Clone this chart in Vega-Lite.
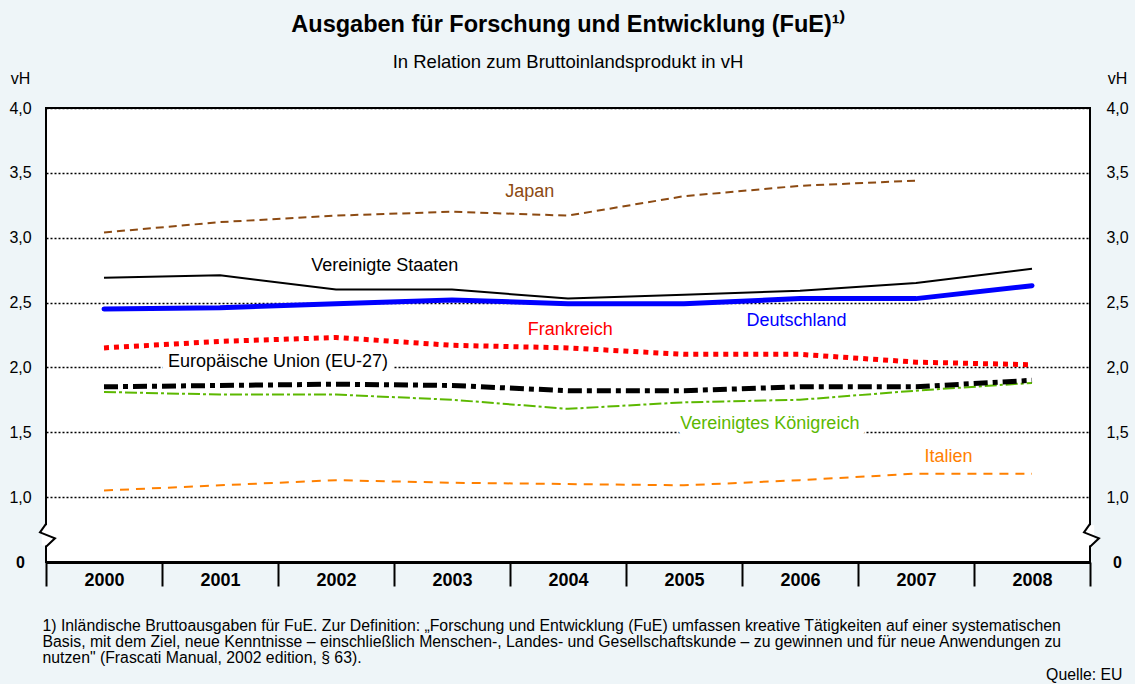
{
  "$schema": "https://vega.github.io/schema/vega-lite/v6.json",
  "width": 1044,
  "height": 454,
  "autosize": {"type": "none"},
  "padding": {"left": 46, "top": 108, "right": 45, "bottom": 122},
  "background": "#EEF5F8",
  "config": {
    "font": "Liberation Sans",
    "view": {"fill": "white", "stroke": "black", "strokeWidth": 2},
    "axis": {"labelFont": "Liberation Sans", "titleFont": "Liberation Sans", "labelColor": "black", "titleColor": "black"}
  },
  "title": {
    "text": "Ausgaben für Forschung und Entwicklung (FuE)¹⁾",
    "subtitle": "In Relation zum Bruttoinlandsprodukt in vH",
    "font": "Liberation Sans",
    "subtitleFont": "Liberation Sans",
    "fontSize": 23.5,
    "fontWeight": "bold",
    "color": "black",
    "subtitleFontSize": 18.5,
    "subtitleColor": "black",
    "anchor": "middle",
    "frame": "group",
    "offset": -1,
    "subtitlePadding": 16
  },
  "datasets": {
    "series": [
      {"country": "Japan", "year": 2000, "value": 3.04},
      {"country": "Japan", "year": 2001, "value": 3.12},
      {"country": "Japan", "year": 2002, "value": 3.17},
      {"country": "Japan", "year": 2003, "value": 3.20},
      {"country": "Japan", "year": 2004, "value": 3.17},
      {"country": "Japan", "year": 2005, "value": 3.32},
      {"country": "Japan", "year": 2006, "value": 3.40},
      {"country": "Japan", "year": 2007, "value": 3.44},
      {"country": "USA", "year": 2000, "value": 2.69},
      {"country": "USA", "year": 2001, "value": 2.71},
      {"country": "USA", "year": 2002, "value": 2.60},
      {"country": "USA", "year": 2003, "value": 2.60},
      {"country": "USA", "year": 2004, "value": 2.53},
      {"country": "USA", "year": 2005, "value": 2.56},
      {"country": "USA", "year": 2006, "value": 2.59},
      {"country": "USA", "year": 2007, "value": 2.65},
      {"country": "USA", "year": 2008, "value": 2.76},
      {"country": "Deutschland", "year": 2000, "value": 2.45},
      {"country": "Deutschland", "year": 2001, "value": 2.46},
      {"country": "Deutschland", "year": 2002, "value": 2.49},
      {"country": "Deutschland", "year": 2003, "value": 2.52},
      {"country": "Deutschland", "year": 2004, "value": 2.49},
      {"country": "Deutschland", "year": 2005, "value": 2.49},
      {"country": "Deutschland", "year": 2006, "value": 2.53},
      {"country": "Deutschland", "year": 2007, "value": 2.53},
      {"country": "Deutschland", "year": 2008, "value": 2.63},
      {"country": "Frankreich", "year": 2000, "value": 2.15},
      {"country": "Frankreich", "year": 2001, "value": 2.20},
      {"country": "Frankreich", "year": 2002, "value": 2.23},
      {"country": "Frankreich", "year": 2003, "value": 2.17},
      {"country": "Frankreich", "year": 2004, "value": 2.15},
      {"country": "Frankreich", "year": 2005, "value": 2.10},
      {"country": "Frankreich", "year": 2006, "value": 2.10},
      {"country": "Frankreich", "year": 2007, "value": 2.04},
      {"country": "Frankreich", "year": 2008, "value": 2.02},
      {"country": "EU27", "year": 2000, "value": 1.85},
      {"country": "EU27", "year": 2001, "value": 1.86},
      {"country": "EU27", "year": 2002, "value": 1.87},
      {"country": "EU27", "year": 2003, "value": 1.86},
      {"country": "EU27", "year": 2004, "value": 1.82},
      {"country": "EU27", "year": 2005, "value": 1.82},
      {"country": "EU27", "year": 2006, "value": 1.85},
      {"country": "EU27", "year": 2007, "value": 1.85},
      {"country": "EU27", "year": 2008, "value": 1.90},
      {"country": "UK", "year": 2000, "value": 1.81},
      {"country": "UK", "year": 2001, "value": 1.79},
      {"country": "UK", "year": 2002, "value": 1.79},
      {"country": "UK", "year": 2003, "value": 1.75},
      {"country": "UK", "year": 2004, "value": 1.68},
      {"country": "UK", "year": 2005, "value": 1.73},
      {"country": "UK", "year": 2006, "value": 1.75},
      {"country": "UK", "year": 2007, "value": 1.82},
      {"country": "UK", "year": 2008, "value": 1.88},
      {"country": "Italien", "year": 2000, "value": 1.05},
      {"country": "Italien", "year": 2001, "value": 1.09},
      {"country": "Italien", "year": 2002, "value": 1.13},
      {"country": "Italien", "year": 2003, "value": 1.11},
      {"country": "Italien", "year": 2004, "value": 1.10},
      {"country": "Italien", "year": 2005, "value": 1.09},
      {"country": "Italien", "year": 2006, "value": 1.13},
      {"country": "Italien", "year": 2007, "value": 1.18},
      {"country": "Italien", "year": 2008, "value": 1.18}
    ],
    "labels": [
      {"label": "Japan", "x": 2003.67, "y": 3.35},
      {"label": "Vereinigte Staaten", "x": 2002.42, "y": 2.785},
      {"label": "Deutschland", "x": 2005.97, "y": 2.36},
      {"label": "Frankreich", "x": 2004.02, "y": 2.29},
      {"label": "Europäische Union (EU-27)", "x": 2001.5, "y": 2.04},
      {"label": "Vereinigtes Königreich", "x": 2005.74, "y": 1.56},
      {"label": "Italien", "x": 2007.28, "y": 1.31}
    ],
    "breaks": [
      {"x": 1999.5, "y": 0.41},
      {"x": 2008.5, "y": 0.41}
    ]
  },
  "layer": [
    {
      "data": {"name": "labels"},
      "mark": {"type": "text", "fontSize": 18, "font": "Liberation Sans", "align": "center", "baseline": "middle", "fill": "white", "stroke": "white", "strokeWidth": 14, "strokeJoin": "round"},
      "encoding": {
        "x": {"field": "x", "type": "quantitative", "scale": {"domain": [1999.5, 2008.5], "nice": false, "zero": false}, "axis": null},
        "y": {"field": "y", "type": "quantitative", "scale": {"domain": [0, 1, 4], "range": [454, 389, 0], "nice": false, "zero": false}, "axis": null},
        "text": {"field": "label"}
      }
    },
    {
      "data": {"name": "series"},
      "encoding": {
        "x": {
          "field": "year", "type": "ordinal", "bandPosition": 0.5,
          "scale": {"type": "band", "paddingInner": 0, "paddingOuter": 0},
          "axis": {
            "domain": true, "domainColor": "black", "domainWidth": 3,
            "ticks": true, "tickBand": "extent", "tickSize": 24, "tickColor": "black", "tickWidth": 2,
            "labelFontSize": 18, "labelFontWeight": "bold", "labelAngle": 0, "labelBaseline": "top", "labelPadding": -15,
            "grid": false,
            "title": [
              "1) Inländische Bruttoausgaben für FuE. Zur Definition: „Forschung und Entwicklung (FuE) umfassen kreative Tätigkeiten auf einer systematischen",
              "Basis, mit dem Ziel, neue Kenntnisse – einschließlich Menschen-, Landes- und Gesellschaftskunde – zu gewinnen und für neue Anwendungen zu",
              "nutzen\" (Frascati Manual, 2002 edition, § 63)."
            ],
            "titleFontSize": 15.8, "titleFontWeight": "normal", "titleAlign": "left", "titleAnchor": "start",
            "titleBaseline": "alphabetic", "titleX": -4, "titleY": 68, "titleLineHeight": 16.2
          }
        },
        "y": {
          "field": "value", "type": "quantitative",
          "scale": {"domain": [0, 1, 4], "range": [454, 389, 0], "nice": false, "zero": false},
          "axis": {
            "orient": "left", "values": [0, 1, 1.5, 2, 2.5, 3, 3.5, 4],
            "domain": false, "ticks": false,
            "grid": true, "gridColor": "black", "gridDash": [2, 2], "gridWidth": 1.6, "gridOpacity": 1,
            "labelExpr": "datum.value == 0 ? '0' : replace(format(datum.value, '.1f'), '.', ',')",
            "labelFontSize": 16, "labelAlign": "center", "labelPadding": 26,
            "labelFontWeight": {"condition": {"test": "datum.value == 0", "value": "bold"}, "value": "normal"},
            "title": "vH", "titleAngle": 0, "titleFontSize": 16, "titleFontWeight": "normal",
            "titleAlign": "center", "titleBaseline": "middle", "titleX": -26, "titleY": -30
          }
        }
      },
      "layer": [
        {"transform": [{"filter": "datum.country === 'Italien'"}], "mark": {"type": "line", "color": "#FF8000", "strokeWidth": 2, "strokeDash": [9, 7]}},
        {"transform": [{"filter": "datum.country === 'UK'"}], "mark": {"type": "line", "color": "#5CB800", "strokeWidth": 2, "strokeDash": [12, 3, 3, 3]}},
        {"transform": [{"filter": "datum.country === 'EU27'"}], "mark": {"type": "line", "color": "black", "strokeWidth": 5, "strokeDash": [14, 5, 5, 5]}},
        {"transform": [{"filter": "datum.country === 'Frankreich'"}], "mark": {"type": "line", "color": "#FF0000", "strokeWidth": 5, "strokeDash": [5, 5]}},
        {"transform": [{"filter": "datum.country === 'Japan'"}], "mark": {"type": "line", "color": "#8C4A12", "strokeWidth": 2, "strokeDash": [8, 5]}},
        {"transform": [{"filter": "datum.country === 'USA'"}], "mark": {"type": "line", "color": "black", "strokeWidth": 2}},
        {"transform": [{"filter": "datum.country === 'Deutschland'"}], "mark": {"type": "line", "color": "#0000FF", "strokeWidth": 5, "strokeCap": "round"}}
      ]
    },
    {
      "data": {"name": "breaks"},
      "mark": {"type": "point", "shape": "M-0.35,-0.85H0.35V0.85H-0.35Z", "size": 576, "filled": true, "fill": "white", "strokeWidth": 0, "opacity": 1},
      "encoding": {
        "x": {"field": "x", "type": "quantitative", "scale": {"domain": [1999.5, 2008.5], "nice": false, "zero": false}, "axis": null},
        "y": {"field": "y", "type": "quantitative", "scale": {"domain": [0, 1, 4], "range": [454, 389, 0], "nice": false, "zero": false}, "axis": null}
      }
    },
    {
      "data": {"name": "breaks"},
      "mark": {"type": "point", "shape": "M0,-0.95L-0.5,-0.25L0.75,0.25L0,0.95", "size": 576, "filled": false, "stroke": "black", "strokeWidth": 2, "opacity": 1},
      "encoding": {
        "x": {"field": "x", "type": "quantitative", "scale": {"domain": [1999.5, 2008.5], "nice": false, "zero": false}, "axis": null},
        "y": {"field": "y", "type": "quantitative", "scale": {"domain": [0, 1, 4], "range": [454, 389, 0], "nice": false, "zero": false}, "axis": null}
      }
    },
    {
      "data": {"name": "labels"},
      "mark": {"type": "text", "fontSize": 18, "font": "Liberation Sans", "align": "center", "baseline": "middle"},
      "encoding": {
        "x": {
          "field": "x", "type": "quantitative", "scale": {"domain": [1999.5, 2008.5], "nice": false, "zero": false},
          "axis": {"orient": "top", "labels": false, "ticks": false, "domain": false, "grid": false,
            "title": "Quelle: EU", "titleFontSize": 15.8, "titleFontWeight": "normal", "titleAlign": "right",
            "titleBaseline": "alphabetic", "titleX": 1076, "titleY": 571}
        },
        "y": {
          "field": "y", "type": "quantitative",
          "scale": {"domain": [0, 1, 4], "range": [454, 389, 0], "nice": false, "zero": false},
          "axis": {
            "orient": "right", "values": [0, 1, 1.5, 2, 2.5, 3, 3.5, 4],
            "domain": false, "ticks": false, "grid": false,
            "labelExpr": "datum.value == 0 ? '0' : replace(format(datum.value, '.1f'), '.', ',')",
            "labelFontSize": 16, "labelAlign": "center", "labelPadding": 27,
            "labelFontWeight": {"condition": {"test": "datum.value == 0", "value": "bold"}, "value": "normal"},
            "title": "vH", "titleAngle": 0, "titleFontSize": 16, "titleFontWeight": "normal",
            "titleAlign": "center", "titleBaseline": "middle", "titleX": 27, "titleY": -30
          }
        },
        "text": {"field": "label"},
        "color": {
          "field": "label", "type": "nominal", "legend": null,
          "scale": {
            "domain": ["Japan", "Vereinigte Staaten", "Deutschland", "Frankreich", "Europäische Union (EU-27)", "Vereinigtes Königreich", "Italien"],
            "range": ["#8C4A12", "#000000", "#0000FF", "#FF0000", "#000000", "#5CB800", "#FF8000"]
          }
        }
      }
    }
  ],
  "resolve": {"scale": {"x": "independent"}, "axis": {"x": "independent", "y": "independent"}}
}
